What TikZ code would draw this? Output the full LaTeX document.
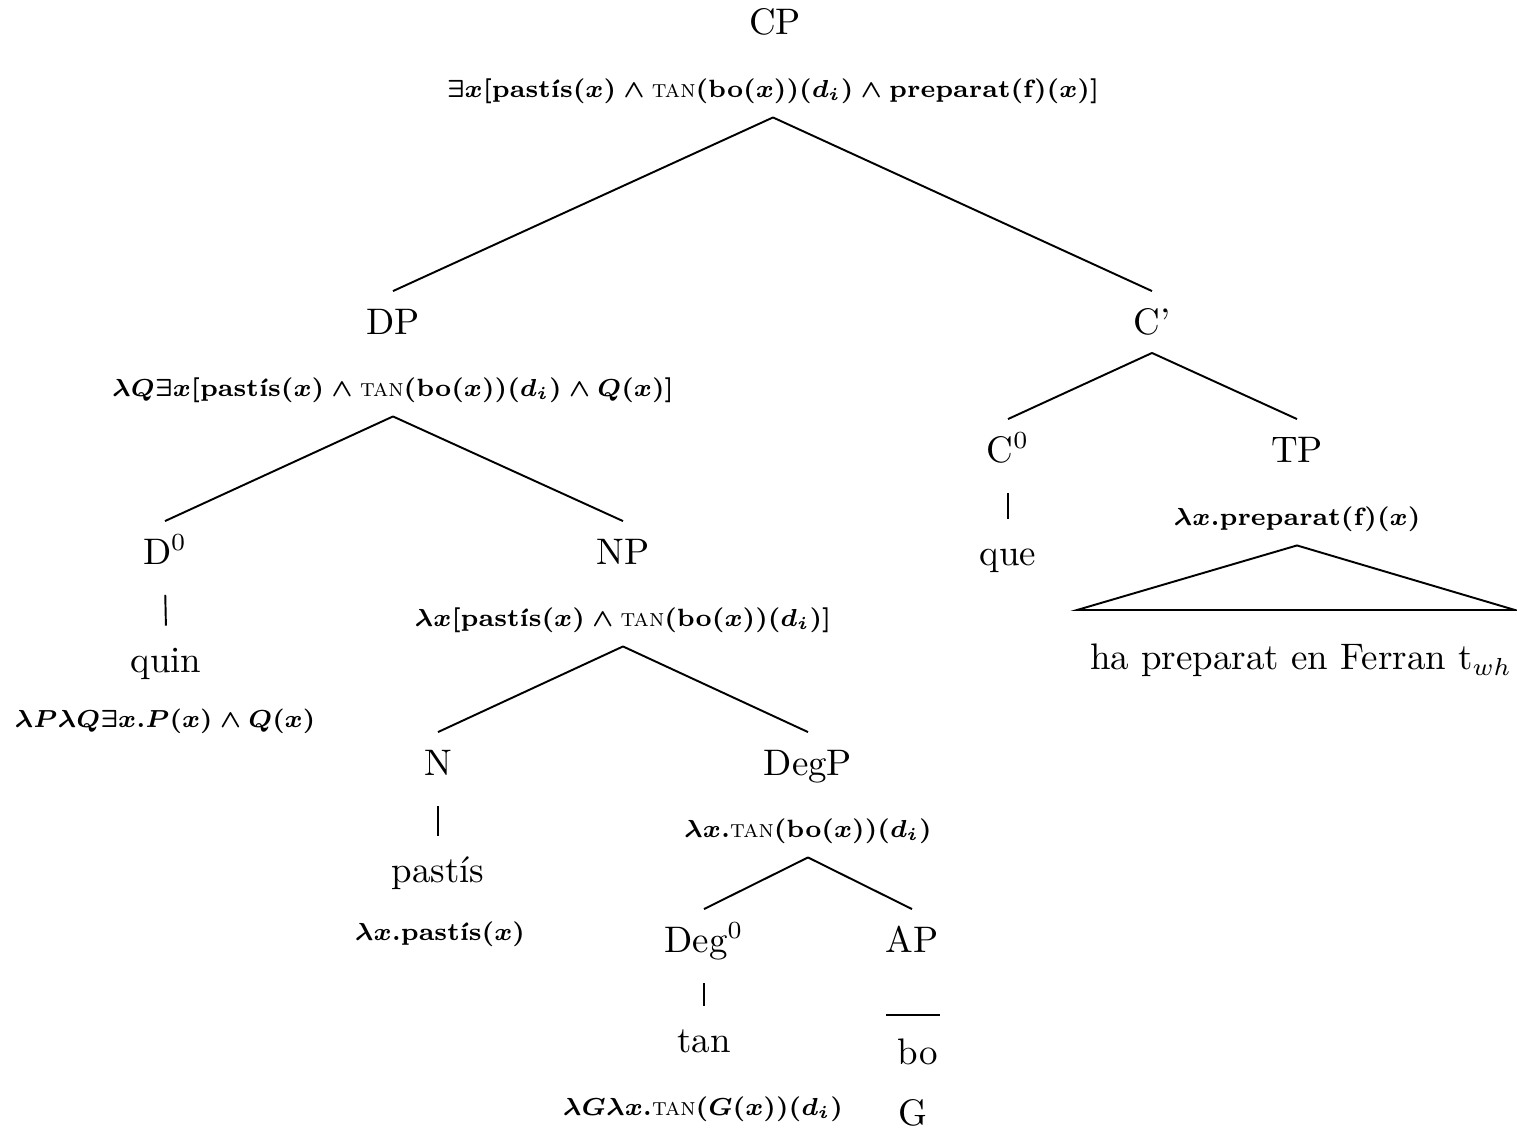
\documentclass[tikz,border=0pt]{standalone}
\usepackage{tikz}
\tikzset{
  cat/.style={font=\fontsize{10.5}{12}\selectfont, text height=7.2pt, text depth=0pt, inner sep=0pt, outer ysep=5.2pt},
  sem/.style={font=\fontsize{7.1}{9}\selectfont\bfseries\boldmath, text height=6pt, text depth=2pt, inner sep=0pt, outer ysep=3.8pt},
  branch/.style={line width=0.55pt},
  bar/.style={line width=0.55pt, shorten <=3.4pt, shorten >=1pt}
}
\newcommand{\tanop}{\textmd{\textsc{tan}}}
\newcommand{\andop}{${}\wedge{}$}
\begin{document}
\begin{tikzpicture}[x=0.01cm,y=-0.01cm]
\useasboundingbox (0,0) rectangle (1517,1129);
%labels
\node[cat] (cp) at (775,22) {CP};
\node[sem] (cpsem) at (773,90) {$\exists x$[pastís($x$)\andop\tanop(bo($x$))($d_i$)\andop preparat(f)($x$)]};
\node[cat] (dp) at (393,322) {DP};
\node[sem] (dpsem) at (393,389) {$\lambda Q\exists x$[pastís($x$)\andop\tanop(bo($x$))($d_i$)\andop$Q$($x$)]};
\node[cat] (cbar) at (1152,322) {C'};
\node[cat] (d0) at (165,552) {D$^0$};
\node[cat] (quin) at (166,660) {quin};
\node[sem] (d0sem) at (165,720) {$\lambda P\lambda Q\exists x.P(x)\wedge Q(x)$};
\node[cat] (np) at (623,552) {NP};
\node[sem] (npsem) at (623,619) {$\lambda x$[pastís($x$)\andop\tanop(bo($x$))($d_i$)]};
\node[cat] (n) at (438,763) {N};
\node[cat] (pastis) at (438,870) {pastís};
\node[sem] (nsem) at (440,933) {$\lambda x$.pastís($x$)};
\node[cat] (degp) at (808,763) {DegP};
\node[sem] (degpsem) at (808,830) {$\lambda x$.\tanop(bo($x$))($d_i$)};
\node[cat] (deg0) at (704,940) {Deg$^0$};
\node[cat] (tan) at (704,1040) {tan};
\node[sem] (deg0sem) at (703,1108) {$\lambda G\lambda x$.\tanop($G$($x$))($d_i$)};
\node[cat] (ap) at (912,940) {AP};
\node[cat] (bo) at (918,1052) {bo};
\node[cat] (g) at (913,1113) {G};
\node[cat] (c0) at (1008,450) {C$^0$};
\node[cat] (que) at (1008,553) {que};
\node[cat] (tp) at (1297,450) {TP};
\node[sem] (tpsem) at (1297,518) {$\lambda x$.preparat(f)($x$)};
\node[cat] (tpyield) at (1301,657) {ha preparat en Ferran t$_{wh}$};
\coordinate (tpleft) at (1077,610);
\coordinate (tpright) at (1515,610);
\coordinate (apleft) at (886,1015);
\coordinate (apright) at (940,1015);
%branches
\draw[branch] (cpsem.south) -- (dp.north);
\draw[branch] (cpsem.south) -- (cbar.north);
\draw[branch] (dpsem.south) -- (d0.north);
\draw[branch] (dpsem.south) -- (np.north);
\draw[branch] (npsem.south) -- (n.north);
\draw[branch] (npsem.south) -- (degp.north);
\draw[branch] (degpsem.south) -- (deg0.north);
\draw[branch] (degpsem.south) -- (ap.north);
\draw[branch] (cbar.south) -- (c0.north);
\draw[branch] (cbar.south) -- (tp.north);
%bars
\draw[bar] (d0.south) -- (quin.north);
\draw[bar] (n.south) -- (pastis.north);
\draw[bar] (deg0.south) -- (tan.north);
\draw[bar] (c0.south) -- (que.north);
\draw[branch] (apleft) -- (apright);
%triangle
\draw[branch] (tpsem.south) -- (tpleft) -- (tpright) -- cycle;
\end{tikzpicture}
\end{document}
